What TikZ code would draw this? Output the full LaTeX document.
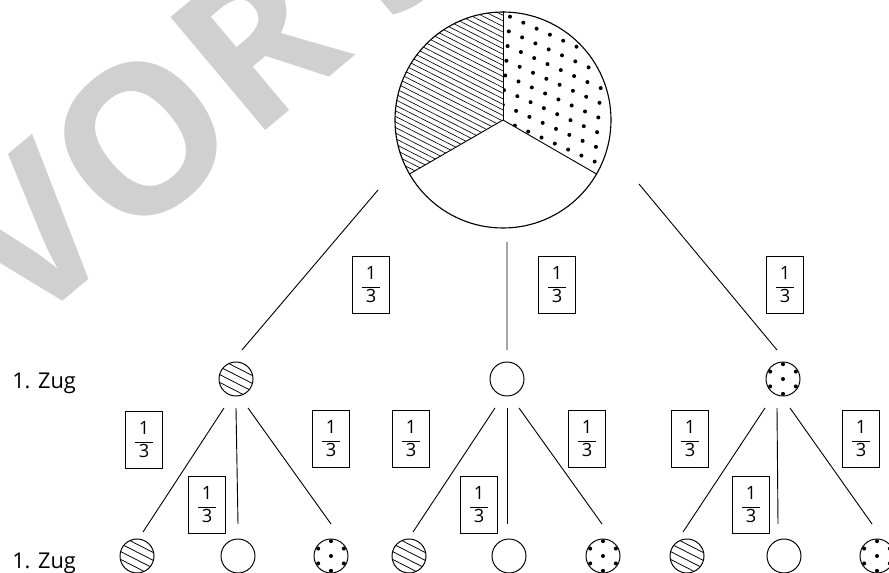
\documentclass[tikz,border=0pt]{standalone}
\usepackage{amsmath}
\usepackage{fontspec}
\setmainfont{Open Sans}
\usetikzlibrary{calc}
\definecolor{wmGray}{RGB}{208,208,208}
\newcommand{\drittel}{$\dfrac{\kern2.5pt\text{1}\kern2.5pt}{\text{3}}$}
\tikzset{
  kugel/.style={circle, draw, line width=0.7pt, minimum size=0.85cm, inner sep=0pt},
  kugelS/.style={kugel, path picture={
      \foreach \o in {-0.2625,-0.0875,0.0875,0.2625}
        \draw[line width=0.55pt]
          ($(path picture bounding box.center)+(153:0.6)+(63:\o)$) --
          ($(path picture bounding box.center)+(-27:0.6)+(63:\o)$);}},
  kugelW/.style={kugel},
  kugelP/.style={kugel, path picture={
      \fill (path picture bounding box.center) circle (0.05);
      \foreach \w in {30,90,...,330}
        \fill ($(path picture bounding box.center)+(\w:0.37)$) circle (0.05);}},
  bruch/.style={rectangle, draw, line width=0.6pt, minimum width=0.925cm,
    minimum height=1.425cm, inner sep=0pt, font=\fontsize{13}{15}\selectfont},
  ast/.style={line width=0.65pt},
  zug/.style={font=\fontsize{15.5}{18}\selectfont, anchor=base west, inner sep=0pt},
}

\begin{document}
\begin{tikzpicture}
\useasboundingbox (0,0) rectangle (22.225,-14.325);

%% ── WATERMARK ───────────────────────────────────────────
\begin{scope}
  \clip (0,0) rectangle (22.225,-14.325);
  \node[text=wmGray, font=\bfseries\fontsize{147}{147}\selectfont, rotate=40,
        anchor=base west, inner sep=0pt] (wz) at (0.6,-8.35) {VOR\kern0.22em SCHAU};
\end{scope}

%% ── URNE ────────────────────────────────────────────────
\coordinate (m) at (12.575,-3);
\begin{scope}
  \clip (m) -- ++(90:2.7) arc[start angle=90, end angle=210, radius=2.7] -- cycle;
  \foreach \o in {-3.0,-2.876,...,3.0}
    \draw[line width=0.45pt] ($(m)+(153:3)+(63:\o)$) -- ($(m)+(-27:3)+(63:\o)$);
\end{scope}
\begin{scope}
  \clip (m) -- ++(-30:2.64) arc[start angle=-30, end angle=90, radius=2.64] -- cycle;
  \foreach \i in {-1,...,9}
    \foreach \j in {-1,...,17}
      \fill[shift={(m)}] ({0.175+0.3325*\i-0.03*\j},{2.583-0.15*\i-0.3675*\j}) circle (0.05);
\end{scope}
\node[circle, draw, line width=0.8pt, minimum size=5.4cm, inner sep=0pt] (pie) at (m) {};
\draw[ast] (pie.center) -- (pie.90);
\draw[ast] (pie.center) -- (pie.210);
\draw[ast] (pie.center) -- (pie.330);

%% ── 1. ZUG ──────────────────────────────────────────────
\node[zug] (z1) at (0.3,-9.7) {1. Zug};

\node[kugelS] (k1) at (5.9,-9.475) {};
\node[kugelW] (k2) at (12.675,-9.475) {};
\node[kugelP] (k3) at (19.575,-9.475) {};

\draw[ast] ($(pie.center)+(-3.125,-1.75)$) -- ([shift={(0.15,0.725)}]k1.center);
\draw[ast] ($(pie.center)+(0.1,-3.05)$) -- ([shift={(0,0.725)}]k2.center);
\draw[ast] ($(pie.center)+(3.4,-1.6)$) -- ([shift={(-0.15,0.725)}]k3.center);

\node[bruch] (b1) at (9.275,-7.125) {\drittel};
\node[bruch] (b2) at (13.925,-7.125) {\drittel};
\node[bruch] (b3) at (19.625,-7.125) {\drittel};

%% ── 2. REIHE ────────────────────────────────────────────
\node[zug] (z2) at (0.3,-14.2) {1. Zug};

\node[kugelS] (k11) at (3.425,-13.9) {};
\node[kugelW] (k12) at (5.95,-13.9) {};
\node[kugelP] (k13) at (8.275,-13.9) {};
\node[kugelS] (k21) at (10.225,-13.9) {};
\node[kugelW] (k22) at (12.725,-13.9) {};
\node[kugelP] (k23) at (15.075,-13.9) {};
\node[kugelS] (k31) at (17.175,-13.9) {};
\node[kugelW] (k32) at (19.6,-13.9) {};
\node[kugelP] (k33) at (21.925,-13.9) {};

\draw[ast] ([shift={(-0.3,-0.725)}]k1.center) -- ([shift={(0.15,0.6)}]k11.center);
\draw[ast] ([shift={(0,-0.725)}]k1.center) -- ([shift={(0,0.8)}]k12.center);
\draw[ast] ([shift={(0.3,-0.725)}]k1.center) -- ([shift={(0,0.8)}]k13.center);
\draw[ast] ([shift={(-0.3,-0.725)}]k2.center) -- ([shift={(0.1,0.6)}]k21.center);
\draw[ast] ([shift={(0,-0.725)}]k2.center) -- ([shift={(-0.05,0.8)}]k22.center);
\draw[ast] ([shift={(0.3,-0.725)}]k2.center) -- ([shift={(-0.025,0.8)}]k23.center);
\draw[ast] ([shift={(-0.45,-0.725)}]k3.center) -- ([shift={(-0.1,0.6)}]k31.center);
\draw[ast] ([shift={(-0.15,-0.725)}]k3.center) -- ([shift={(-0.15,0.8)}]k32.center);
\draw[ast] ([shift={(0.175,-0.725)}]k3.center) -- ([shift={(-0.125,0.8)}]k33.center);

\node[bruch] (b11) at (3.6,-11.0) {\drittel};
\node[bruch] (b12) at (5.175,-12.625) {\drittel};
\node[bruch] (b13) at (8.275,-10.975) {\drittel};
\node[bruch] (b21) at (10.275,-10.975) {\drittel};
\node[bruch] (b22) at (11.975,-12.625) {\drittel};
\node[bruch] (b23) at (14.675,-10.975) {\drittel};
\node[bruch] (b31) at (17.25,-10.975) {\drittel};
\node[bruch] (b32) at (18.775,-12.625) {\drittel};
\node[bruch] (b33) at (21.525,-10.975) {\drittel};

\end{tikzpicture}
\end{document}
